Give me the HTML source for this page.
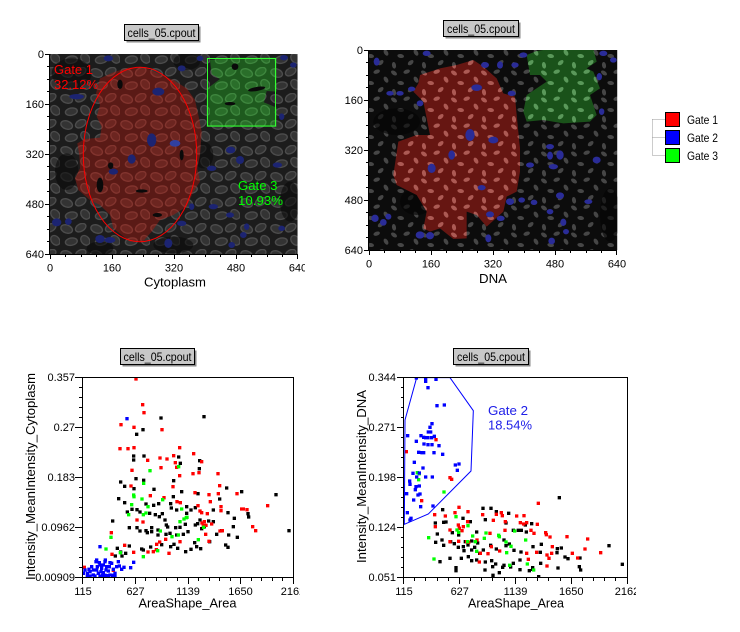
<!DOCTYPE html>
<html><head><meta charset="utf-8"><style>html,body{margin:0;padding:0;background:#fff}svg{display:block}</style></head>
<body>
<svg width="740" height="632" viewBox="0 0 740 632" xmlns="http://www.w3.org/2000/svg" font-family="Liberation Sans, Arial, sans-serif">
<defs>
<pattern id="cyt" patternUnits="userSpaceOnUse" width="90" height="78">
<rect width="90" height="78" fill="#1c1c1c"/>
<g fill="#333333" stroke="#4c4c4c" stroke-width="4">
<ellipse cx="20" cy="18" rx="18" ry="12" transform="rotate(20 20 18)"/>
<ellipse cx="62" cy="14" rx="17" ry="11" transform="rotate(-30 62 14)"/>
<ellipse cx="76" cy="52" rx="16" ry="12" transform="rotate(50 76 52)"/>
<ellipse cx="34" cy="56" rx="18" ry="11" transform="rotate(-10 34 56)"/>
</g></pattern>
<pattern id="cytR" patternUnits="userSpaceOnUse" width="90" height="78">
<rect width="90" height="78" fill="#5a1a16"/>
<g fill="#6c2520" stroke="#82342e" stroke-width="4">
<ellipse cx="20" cy="18" rx="18" ry="12" transform="rotate(20 20 18)"/>
<ellipse cx="62" cy="14" rx="17" ry="11" transform="rotate(-30 62 14)"/>
<ellipse cx="76" cy="52" rx="16" ry="12" transform="rotate(50 76 52)"/>
<ellipse cx="34" cy="56" rx="18" ry="11" transform="rotate(-10 34 56)"/>
</g></pattern>
<pattern id="cytG" patternUnits="userSpaceOnUse" width="90" height="78">
<rect width="90" height="78" fill="#1e5a1e"/>
<g fill="#2a6e2a" stroke="#3e863e" stroke-width="4">
<ellipse cx="20" cy="18" rx="18" ry="12" transform="rotate(20 20 18)"/>
<ellipse cx="62" cy="14" rx="17" ry="11" transform="rotate(-30 62 14)"/>
<ellipse cx="76" cy="52" rx="16" ry="12" transform="rotate(50 76 52)"/>
<ellipse cx="34" cy="56" rx="18" ry="11" transform="rotate(-10 34 56)"/>
</g></pattern>
<pattern id="nuc" patternUnits="userSpaceOnUse" width="90" height="81">
<rect width="90" height="81" fill="#0c0c0c"/>
<g fill="#464646">
<ellipse cx="12" cy="12" rx="10" ry="6" transform="rotate(35 12 12)"/>
<ellipse cx="50" cy="8" rx="10" ry="6" transform="rotate(-20 50 8)"/>
<ellipse cx="78" cy="32" rx="10" ry="6" transform="rotate(60 78 32)"/>
<ellipse cx="32" cy="42" rx="10" ry="6" transform="rotate(10 32 42)"/>
<ellipse cx="62" cy="62" rx="10" ry="6" transform="rotate(-40 62 62)"/>
<ellipse cx="12" cy="70" rx="10" ry="6" transform="rotate(80 12 70)"/>
</g></pattern>
<pattern id="nucR" patternUnits="userSpaceOnUse" width="90" height="81">
<rect width="90" height="81" fill="#661612"/>
<g fill="#ac5a54">
<ellipse cx="12" cy="12" rx="10" ry="6" transform="rotate(35 12 12)"/>
<ellipse cx="50" cy="8" rx="10" ry="6" transform="rotate(-20 50 8)"/>
<ellipse cx="78" cy="32" rx="10" ry="6" transform="rotate(60 78 32)"/>
<ellipse cx="32" cy="42" rx="10" ry="6" transform="rotate(10 32 42)"/>
<ellipse cx="62" cy="62" rx="10" ry="6" transform="rotate(-40 62 62)"/>
<ellipse cx="12" cy="70" rx="10" ry="6" transform="rotate(80 12 70)"/>
</g></pattern>
<pattern id="nucG" patternUnits="userSpaceOnUse" width="90" height="81">
<rect width="90" height="81" fill="#1a521a"/>
<g fill="#5a985a">
<ellipse cx="12" cy="12" rx="10" ry="6" transform="rotate(35 12 12)"/>
<ellipse cx="50" cy="8" rx="10" ry="6" transform="rotate(-20 50 8)"/>
<ellipse cx="78" cy="32" rx="10" ry="6" transform="rotate(60 78 32)"/>
<ellipse cx="32" cy="42" rx="10" ry="6" transform="rotate(10 32 42)"/>
<ellipse cx="62" cy="62" rx="10" ry="6" transform="rotate(-40 62 62)"/>
<ellipse cx="12" cy="70" rx="10" ry="6" transform="rotate(80 12 70)"/>
</g></pattern>
<clipPath id="c1"><rect x="150" y="117" width="743" height="600"/></clipPath>
<clipPath id="c2"><rect x="117" y="105" width="745" height="600"/></clipPath>
<clipPath id="cb1"><rect x="83" y="377" width="210" height="200"/></clipPath>
<clipPath id="cb2"><rect x="404" y="377" width="223" height="200"/></clipPath>
</defs>
<rect width="740" height="632" fill="#fff"/>

<!-- ===== Top-left image ===== -->
<g transform="translate(0,15) scale(0.333333)">
<g clip-path="url(#c1)">
<rect x="150" y="117" width="743" height="600" fill="url(#cyt)"/>
<g fill="#0a0a0a" opacity="0.6">
<ellipse cx="215" cy="175" rx="60" ry="45"/>
<ellipse cx="560" cy="140" rx="40" ry="25"/>
<ellipse cx="200" cy="470" rx="35" ry="55"/>
<ellipse cx="520" cy="690" rx="60" ry="25"/>
<ellipse cx="870" cy="560" rx="30" ry="60"/>
<ellipse cx="300" cy="700" rx="40" ry="20"/>
<ellipse cx="610" cy="420" rx="30" ry="40"/>
</g>
<path fill="url(#cytR)" d="M300,190 L340,172 L385,158 L440,160 L480,178 L520,195 L560,220 L585,255 L595,300 L605,350 L600,420 L592,460 L600,500 L580,530 L560,575 L520,600 L480,615 L455,650 L430,678 L390,680 L365,660 L340,640 L330,600 L300,570 L270,555 L235,525 L225,490 L240,460 L238,420 L232,385 L255,372 L300,368 L305,335 L290,305 L300,270 L288,235 Z"/>
<g fill="#0a0a0a">
<ellipse cx="360" cy="208" rx="8" ry="14"/>
<ellipse cx="300" cy="510" rx="10" ry="22"/>
<ellipse cx="425" cy="528" rx="18" ry="5"/>
<ellipse cx="332" cy="452" rx="8" ry="10"/>
<ellipse cx="472" cy="600" rx="14" ry="6"/>
<ellipse cx="545" cy="420" rx="6" ry="16"/>
</g>
<path fill="url(#cytG)" d="M630,135 L700,128 L830,128 L830,230 L800,228 L792,262 L830,278 L830,336 L620,336 L620,222 L660,192 L635,178 Z"/>
<g fill="#0a0a0a">
<ellipse cx="770" cy="222" rx="26" ry="6" transform="rotate(-10 770 222)"/>
<ellipse cx="690" cy="266" rx="16" ry="5"/>
<ellipse cx="705" cy="155" rx="10" ry="10"/>
</g>
<g fill="#1c2472">
<ellipse cx="325" cy="130" rx="14" ry="9"/><ellipse cx="545" cy="160" rx="12" ry="9"/><ellipse cx="600" cy="130" rx="10" ry="8"/>
<ellipse cx="852" cy="128" rx="12" ry="8"/><ellipse cx="880" cy="150" rx="10" ry="8"/><ellipse cx="230" cy="245" rx="22" ry="8"/>
<ellipse cx="475" cy="230" rx="18" ry="12"/><ellipse cx="455" cy="375" rx="14" ry="20"/><ellipse cx="525" cy="385" rx="16" ry="10" fill="#3040a0"/>
<ellipse cx="395" cy="432" rx="12" ry="14"/><ellipse cx="340" cy="470" rx="14" ry="9"/><ellipse cx="692" cy="405" rx="14" ry="10"/>
<ellipse cx="720" cy="435" rx="12" ry="12"/><ellipse cx="635" cy="460" rx="14" ry="8"/><ellipse cx="832" cy="450" rx="14" ry="8"/>
<ellipse cx="640" cy="575" rx="14" ry="8"/><ellipse cx="690" cy="600" rx="12" ry="8"/><ellipse cx="740" cy="635" rx="8" ry="10"/>
<ellipse cx="730" cy="660" rx="10" ry="9"/><ellipse cx="695" cy="690" rx="10" ry="9"/><ellipse cx="170" cy="622" rx="14" ry="12"/>
<ellipse cx="205" cy="620" rx="10" ry="10"/><ellipse cx="300" cy="672" rx="14" ry="12"/><ellipse cx="505" cy="685" rx="12" ry="14"/>
<ellipse cx="545" cy="625" rx="14" ry="8"/><ellipse cx="575" cy="575" rx="8" ry="10"/><ellipse cx="845" cy="305" rx="8" ry="10"/>
<ellipse cx="330" cy="675" rx="16" ry="9"/><ellipse cx="845" cy="640" rx="10" ry="8"/>
</g>
</g>
</g>
<ellipse cx="140" cy="154.5" rx="56.7" ry="87.2" fill="none" stroke="#ff0000" stroke-width="1"/>
<rect x="207.5" y="58.5" width="68" height="67.5" fill="none" stroke="#33ff33" stroke-width="1"/>
<text x="54" y="74" font-size="13" fill="#ff0000" textLength="39" lengthAdjust="spacingAndGlyphs">Gate 1</text>
<text x="54" y="89" font-size="13" fill="#ff0000" textLength="44" lengthAdjust="spacingAndGlyphs">32.12%</text>
<text x="238" y="190" font-size="13" fill="#00ff00" textLength="39.5" lengthAdjust="spacingAndGlyphs">Gate 3</text>
<text x="238" y="205" font-size="13" fill="#00ff00" textLength="45" lengthAdjust="spacingAndGlyphs">10.93%</text>

<!-- ===== Top-right image ===== -->
<g transform="translate(330,15) scale(0.333333)">
<g clip-path="url(#c2)">
<rect x="117" y="105" width="745" height="600" fill="url(#nuc)"/>
<g fill="#050505" opacity="0.6">
<ellipse cx="200" cy="320" rx="70" ry="40"/>
<ellipse cx="260" cy="560" rx="50" ry="40"/>
<ellipse cx="840" cy="600" rx="30" ry="80"/>
</g>
<path fill="url(#nucR)" d="M265,205 L270,180 L330,160 L380,150 L430,135 L460,155 L500,190 L520,235 L555,245 L560,300 L565,350 L570,400 L570,470 L560,530 L530,545 L520,590 L470,635 L440,600 L410,590 L410,670 L370,672 L330,640 L300,650 L280,640 L290,590 L260,540 L200,510 L190,480 L205,380 L260,360 L300,360 L290,310 L280,260 L250,230 Z"/>
<path fill="url(#nucG)" d="M590,120 L620,108 L660,102 L700,98 L790,102 L800,140 L770,160 L790,170 L810,220 L780,240 L800,300 L780,320 L700,325 L640,315 L590,320 L580,290 L590,240 L650,200 L630,180 L600,180 Z"/>
<g fill="#2a2c98">
<ellipse cx="140" cy="140" rx="9" ry="12"/><ellipse cx="290" cy="115" rx="12" ry="8"/><ellipse cx="465" cy="150" rx="12" ry="9"/>
<ellipse cx="510" cy="150" rx="9" ry="11"/><ellipse cx="555" cy="150" rx="11" ry="8"/><ellipse cx="580" cy="120" rx="12" ry="8"/>
<ellipse cx="820" cy="115" rx="12" ry="8"/><ellipse cx="850" cy="135" rx="10" ry="8"/><ellipse cx="808" cy="185" rx="8" ry="11"/>
<ellipse cx="180" cy="235" rx="11" ry="7"/><ellipse cx="210" cy="235" rx="11" ry="7"/><ellipse cx="245" cy="222" rx="11" ry="7"/>
<ellipse cx="270" cy="265" rx="10" ry="9"/><ellipse cx="440" cy="218" rx="16" ry="10"/><ellipse cx="545" cy="235" rx="12" ry="8"/>
<ellipse cx="420" cy="360" rx="14" ry="18"/><ellipse cx="490" cy="375" rx="15" ry="10"/><ellipse cx="365" cy="420" rx="10" ry="14"/>
<ellipse cx="305" cy="460" rx="12" ry="14"/><ellipse cx="455" cy="518" rx="12" ry="8"/><ellipse cx="540" cy="560" rx="12" ry="10"/>
<ellipse cx="575" cy="555" rx="10" ry="8"/><ellipse cx="612" cy="562" rx="10" ry="8"/><ellipse cx="480" cy="598" rx="12" ry="9"/>
<ellipse cx="512" cy="610" rx="12" ry="8"/><ellipse cx="660" cy="395" rx="12" ry="8"/><ellipse cx="690" cy="420" rx="11" ry="14"/>
<ellipse cx="660" cy="422" rx="9" ry="12"/><ellipse cx="600" cy="450" rx="12" ry="8"/><ellipse cx="670" cy="455" rx="14" ry="8"/>
<ellipse cx="800" cy="435" rx="12" ry="10"/><ellipse cx="690" cy="542" rx="12" ry="10"/><ellipse cx="775" cy="560" rx="12" ry="7"/>
<ellipse cx="660" cy="590" rx="10" ry="8"/><ellipse cx="700" cy="622" rx="9" ry="11"/><ellipse cx="135" cy="610" rx="11" ry="11"/>
<ellipse cx="160" cy="622" rx="10" ry="10"/><ellipse cx="175" cy="605" rx="9" ry="9"/><ellipse cx="270" cy="660" rx="13" ry="11"/>
<ellipse cx="300" cy="662" rx="12" ry="11"/><ellipse cx="475" cy="670" rx="9" ry="12"/><ellipse cx="665" cy="678" rx="10" ry="10"/>
<ellipse cx="815" cy="290" rx="8" ry="10"/><ellipse cx="708" cy="650" rx="9" ry="8"/>
</g>
</g>
</g>

<!-- axes top -->
<g stroke="#000" stroke-width="1" fill="none">
<path d="M49.5,54V254.5H298"/>
<path d="M45,54.5h5M45,104.5h5M45,154.5h5M45,204.5h5M45,254.5h5M47,66.5h3M47,79.5h3M47,91.5h3M47,116.5h3M47,129.5h3M47,141.5h3M47,166.5h3M47,179.5h3M47,191.5h3M47,216.5h3M47,229.5h3M47,241.5h3"/>
<path d="M50.5,254v5M112.5,254v5M174.5,254v5M236.5,254v5M297.5,254v5M65.5,254v3M81.5,254v3M96.5,254v3M127.5,254v3M143.5,254v3M158.5,254v3M189.5,254v3M205.5,254v3M220.5,254v3M251.5,254v3M267.5,254v3M282.5,254v3"/>
<path d="M368.5,50V250.5H617"/>
<path d="M364,50.5h5M364,100.5h5M364,150.5h5M364,200.5h5M364,250.5h5M366,62.5h3M366,75.5h3M366,87.5h3M366,112.5h3M366,125.5h3M366,137.5h3M366,162.5h3M366,175.5h3M366,187.5h3M366,212.5h3M366,225.5h3M366,237.5h3"/>
<path d="M369.5,250v5M431.5,250v5M493.5,250v5M555.5,250v5M616.5,250v5M384.5,250v3M400.5,250v3M415.5,250v3M446.5,250v3M462.5,250v3M477.5,250v3M508.5,250v3M524.5,250v3M539.5,250v3M570.5,250v3M586.5,250v3M601.5,250v3"/>
</g>
<g font-size="11" fill="#000" text-anchor="end">
<text x="44" y="58">0</text><text x="44" y="108">160</text><text x="44" y="158">320</text><text x="44" y="208">480</text><text x="44" y="258">640</text>
<text x="363" y="54">0</text><text x="363" y="104">160</text><text x="363" y="154">320</text><text x="363" y="204">480</text><text x="363" y="254">640</text>
</g>
<svg x="0" y="0" width="305" height="300" overflow="hidden">
<g font-size="11" fill="#000" text-anchor="middle">
<text x="50" y="271.5">0</text><text x="112" y="271.5">160</text><text x="174" y="271.5">320</text><text x="236" y="271.5">480</text><text x="298" y="271.5">640</text>
</g></svg>
<svg x="330" y="0" width="296" height="300" overflow="hidden">
<g font-size="11" fill="#000" text-anchor="middle">
<text x="39" y="267.5">0</text><text x="101" y="267.5">160</text><text x="163" y="267.5">320</text><text x="225" y="267.5">480</text><text x="287" y="267.5">640</text>
</g></svg>
<text x="175" y="286.5" font-size="13" text-anchor="middle" textLength="62" lengthAdjust="spacingAndGlyphs">Cytoplasm</text>
<text x="493" y="283" font-size="13" text-anchor="middle" textLength="28" lengthAdjust="spacingAndGlyphs">DNA</text>

<!-- title boxes -->
<g font-size="12">
<rect x="126.5" y="26.5" width="74" height="16" fill="#8a8a8a"/>
<rect x="124.5" y="24.5" width="74" height="16" fill="#c8c8c8" stroke="#000"/>
<text x="161.5" y="37" text-anchor="middle" textLength="68" lengthAdjust="spacingAndGlyphs">cells_05.cpout</text>
<rect x="445.5" y="22.5" width="75" height="16" fill="#8a8a8a"/>
<rect x="443.5" y="20.5" width="75" height="16" fill="#c8c8c8" stroke="#000"/>
<text x="481" y="33" text-anchor="middle" textLength="68" lengthAdjust="spacingAndGlyphs">cells_05.cpout</text>
<rect x="122.5" y="350.5" width="74" height="16" fill="#8a8a8a"/>
<rect x="120.5" y="348.5" width="74" height="16" fill="#c8c8c8" stroke="#000"/>
<text x="157.5" y="361" text-anchor="middle" textLength="68" lengthAdjust="spacingAndGlyphs">cells_05.cpout</text>
<rect x="455.5" y="350.5" width="75" height="16" fill="#8a8a8a"/>
<rect x="453.5" y="348.5" width="75" height="16" fill="#c8c8c8" stroke="#000"/>
<text x="491" y="361" text-anchor="middle" textLength="68" lengthAdjust="spacingAndGlyphs">cells_05.cpout</text>
</g>

<!-- legend -->
<path d="M652.5,119.5V155.5M652.5,119.5H665M652.5,137.5H665M652.5,155.5H665" stroke="#999" stroke-dasharray="1,1" fill="none"/>
<rect x="665.5" y="112.5" width="14" height="14" fill="#ff0000" stroke="#000"/>
<rect x="665.5" y="130.5" width="14" height="14" fill="#0000ff" stroke="#000"/>
<rect x="665.5" y="148.5" width="14" height="14" fill="#00ff00" stroke="#000"/>
<g font-size="12" fill="#000">
<text x="687" y="124" textLength="31" lengthAdjust="spacingAndGlyphs">Gate 1</text>
<text x="687" y="142" textLength="31" lengthAdjust="spacingAndGlyphs">Gate 2</text>
<text x="687" y="160" textLength="31" lengthAdjust="spacingAndGlyphs">Gate 3</text>
</g>

<!-- ===== Bottom-left scatter ===== -->
<g clip-path="url(#cb1)">
<g transform="translate(0,340) scale(0.333333) translate(-5,-5)">
<path fill="#000" d="M483 234h10v10h-10zM612 230h10v10h-10zM429 269h10v10h-10zM410 283h10v10h-10zM401 348h10v10h-10zM432 348h10v10h-10zM401 360h10v10h-10zM408 416h10v10h-10zM431 421h10v10h-10zM362 426h10v10h-10zM374 439h10v10h-10zM402 446h10v10h-10zM536 351h10v10h-10zM541 370h10v10h-10zM598 386h10v10h-10zM599 362h10v10h-10zM521 422h10v10h-10zM594 461h10v10h-10zM680 444h10v10h-10zM725 455h10v10h-10zM828 464h10v10h-10zM659 477h10v10h-10zM356 476h10v10h-10zM374 488h10v10h-10zM438 492h10v10h-10zM461 496h10v10h-10zM476 491h10v10h-10zM512 491h10v10h-10zM382 516h10v10h-10zM396 508h10v10h-10zM411 509h10v10h-10zM420 516h10v10h-10zM449 520h10v10h-10zM466 524h10v10h-10zM487 521h10v10h-10zM514 504h10v10h-10zM530 510h10v10h-10zM560 500h10v10h-10zM573 510h10v10h-10zM586 503h10v10h-10zM684 518h10v10h-10zM703 535h10v10h-10zM744 521h10v10h-10zM746 531h10v10h-10zM338 543h10v10h-10zM388 563h10v10h-10zM411 563h10v10h-10zM420 573h10v10h-10zM438 572h10v10h-10zM455 563h10v10h-10zM474 570h10v10h-10zM499 555h10v10h-10zM503 561h10v10h-10zM510 580h10v10h-10zM527 563h10v10h-10zM540 562h10v10h-10zM556 553h10v10h-10zM564 575h10v10h-10zM586 555h10v10h-10zM593 551h10v10h-10zM605 566h10v10h-10zM613 560h10v10h-10zM626 543h10v10h-10zM640 545h10v10h-10zM650 583h10v10h-10zM665 572h10v10h-10zM686 585h10v10h-10zM712 592h10v10h-10zM677 615h10v10h-10zM684 622h10v10h-10zM867 572h10v10h-10zM352 625h10v10h-10zM362 636h10v10h-10zM346 648h10v10h-10zM366 648h10v10h-10zM377 640h10v10h-10zM388 618h10v10h-10zM425 627h10v10h-10zM430 630h10v10h-10zM452 621h10v10h-10zM485 614h10v10h-10zM512 620h10v10h-10zM522 613h10v10h-10zM533 625h10v10h-10zM557 635h10v10h-10zM573 628h10v10h-10zM584 608h10v10h-10zM590 620h10v10h-10zM602 626h10v10h-10zM629 605h10v10h-10zM530 585h10v10h-10zM455 575h10v10h-10zM442 578h10v10h-10zM474 585h10v10h-10zM498 583h10v10h-10zM550 583h10v10h-10zM462 448h10v10h-10zM520 470h10v10h-10zM545 455h10v10h-10zM478 530h10v10h-10zM495 540h10v10h-10zM560 520h10v10h-10zM600 540h10v10h-10zM640 510h10v10h-10zM700 560h10v10h-10z"/>
<path fill="#ff0000" d="M408 117h10v10h-10zM428 194h10v10h-10zM432 218h10v10h-10zM363 254h10v10h-10zM402 262h10v10h-10zM486 269h10v10h-10zM360 326h10v10h-10zM384 326h10v10h-10zM402 323h10v10h-10zM443 361h10v10h-10zM480 354h10v10h-10zM501 357h10v10h-10zM521 347h10v10h-10zM539 323h10v10h-10zM526 368h10v10h-10zM581 341h10v10h-10zM605 365h10v10h-10zM396 391h10v10h-10zM483 383h10v10h-10zM530 382h10v10h-10zM539 407h10v10h-10zM579 401h10v10h-10zM597 398h10v10h-10zM654 401h10v10h-10zM393 438h10v10h-10zM519 440h10v10h-10zM659 437h10v10h-10zM451 467h10v10h-10zM492 473h10v10h-10zM541 488h10v10h-10zM585 458h10v10h-10zM627 464h10v10h-10zM655 461h10v10h-10zM711 461h10v10h-10zM631 485h10v10h-10zM663 500h10v10h-10zM531 485h10v10h-10zM594 497h10v10h-10zM600 513h10v10h-10zM605 518h10v10h-10zM622 521h10v10h-10zM741 509h10v10h-10zM730 507h10v10h-10zM725 507h10v10h-10zM803 497h10v10h-10zM663 512h10v10h-10zM411 540h10v10h-10zM429 546h10v10h-10zM606 549h10v10h-10zM613 545h10v10h-10zM618 556h10v10h-10zM635 552h10v10h-10zM667 572h10v10h-10zM758 560h10v10h-10zM767 572h10v10h-10zM334 578h10v10h-10zM336 643h10v10h-10zM374 616h10v10h-10zM401 637h10v10h-10zM444 636h10v10h-10zM460 635h10v10h-10zM470 613h10v10h-10zM479 606h10v10h-10zM507 640h10v10h-10zM497 598h10v10h-10zM540 605h10v10h-10zM469 629h10v10h-10zM617 583h10v10h-10zM627 604h10v10h-10zM610 556h10v10h-10zM660 573h10v10h-10zM253 682h10v10h-10zM340 691h10v10h-10z"/>
<path fill="#00ff00" d="M450 392h10v10h-10zM431 430h10v10h-10zM401 465h10v10h-10zM402 470h10v10h-10zM426 477h10v10h-10zM395 494h10v10h-10zM444 500h10v10h-10zM488 479h10v10h-10zM430 524h10v10h-10zM438 519h10v10h-10zM386 524h10v10h-10zM545 507h10v10h-10zM559 533h10v10h-10zM540 545h10v10h-10zM552 537h10v10h-10zM561 532h10v10h-10zM611 562h10v10h-10zM595 599h10v10h-10zM516 590h10v10h-10zM535 585h10v10h-10zM481 573h10v10h-10zM333 592h10v10h-10zM318 627h10v10h-10zM473 632h10v10h-10zM430 650h10v10h-10zM361 638h10v10h-10zM536 380h10v10h-10z"/>
<path fill="#0000ff" d="M381 236h10v10h-10zM300 620h10v10h-10zM401 667h10v10h-10zM392 683h10v10h-10zM355 665h10v10h-10zM330 668h10v10h-10zM316 660h10v10h-10zM255 690h10v10h-10zM262 700h10v10h-10zM270 695h10v10h-10zM275 680h10v10h-10zM280 705h10v10h-10zM288 665h10v10h-10zM290 690h10v10h-10zM295 700h10v10h-10zM300 675h10v10h-10zM305 685h10v10h-10zM310 698h10v10h-10zM315 665h10v10h-10zM320 680h10v10h-10zM325 693h10v10h-10zM330 705h10v10h-10zM335 670h10v10h-10zM340 688h10v10h-10zM345 700h10v10h-10zM350 680h10v10h-10zM358 678h10v10h-10zM365 688h10v10h-10zM372 682h10v10h-10zM262 706h10v10h-10zM270 708h10v10h-10zM285 708h10v10h-10zM300 708h10v10h-10zM315 706h10v10h-10zM325 707h10v10h-10zM338 706h10v10h-10zM250 700h10v10h-10zM292 680h10v10h-10zM303 695h10v10h-10zM318 690h10v10h-10zM328 680h10v10h-10zM310 675h10v10h-10zM280 690h10v10h-10zM298 668h10v10h-10zM290 660h10v10h-10zM267 688h10v10h-10zM308 706h10v10h-10zM345 710h10v10h-10z"/>
</g>
</g>
<g stroke="#000" fill="none">
<rect x="82.5" y="377.5" width="211" height="200"/>
<path d="M75,377.5h7M75,427.5h7M75,477.5h7M75,527.5h7M75,577.5h7M79,387.5h3M79,397.5h3M79,407.5h3M79,417.5h3M79,437.5h3M79,447.5h3M79,457.5h3M79,467.5h3M79,487.5h3M79,497.5h3M79,507.5h3M79,517.5h3M79,537.5h3M79,547.5h3M79,557.5h3M79,567.5h3"/>
<path d="M82.5,578v6M135.5,578v6M188.5,578v6M240.5,578v6M293.5,578v6M93.5,578v3M103.5,578v3M114.5,578v3M124.5,578v3M145.5,578v3M156.5,578v3M166.5,578v3M177.5,578v3M198.5,578v3M209.5,578v3M219.5,578v3M230.5,578v3M251.5,578v3M261.5,578v3M272.5,578v3M282.5,578v3"/>
</g>
<g font-size="11" text-anchor="end">
<text x="75" y="381">0.357</text><text x="75" y="431">0.27</text><text x="75" y="481">0.183</text><text x="75" y="531">0.0962</text><text x="75" y="581">0.00909</text>
</g>
<svg x="0" y="570" width="300" height="40" overflow="hidden">
<g font-size="11" text-anchor="middle">
<text x="83" y="25">115</text><text x="135.5" y="25">627</text><text x="188" y="25">1139</text><text x="240.5" y="25">1650</text><text x="293" y="25">2162</text>
</g></svg>
<text x="187.5" y="607.5" font-size="13" text-anchor="middle" textLength="98" lengthAdjust="spacingAndGlyphs">AreaShape_Area</text>
<text transform="translate(35,476.5) rotate(-90)" font-size="13" text-anchor="middle" textLength="207" lengthAdjust="spacingAndGlyphs">Intensity_MeanIntensity_Cytoplasm</text>

<!-- ===== Bottom-right scatter ===== -->
<g clip-path="url(#cb2)">
<g transform="translate(340,340) scale(0.333333) translate(-5,-5)">
<path fill="#000" d="M658 473h10v10h-10zM429 505h10v10h-10zM453 505h10v10h-10zM469 515h10v10h-10zM506 520h10v10h-10zM308 509h10v10h-10zM286 549h10v10h-10zM311 547h10v10h-10zM318 546h10v10h-10zM369 535h10v10h-10zM391 545h10v10h-10zM436 539h10v10h-10zM498 549h10v10h-10zM535 571h10v10h-10zM544 571h10v10h-10zM556 555h10v10h-10zM575 551h10v10h-10zM292 582h10v10h-10zM337 578h10v10h-10zM356 585h10v10h-10zM410 576h10v10h-10zM520 571h10v10h-10zM559 576h10v10h-10zM306 600h10v10h-10zM311 616h10v10h-10zM287 607h10v10h-10zM332 605h10v10h-10zM343 611h10v10h-10zM370 620h10v10h-10zM384 615h10v10h-10zM395 603h10v10h-10zM404 622h10v10h-10zM413 609h10v10h-10zM430 630h10v10h-10zM452 616h10v10h-10zM469 627h10v10h-10zM492 600h10v10h-10zM498 617h10v10h-10zM508 612h10v10h-10zM522 631h10v10h-10zM543 636h10v10h-10zM579 620h10v10h-10zM601 637h10v10h-10zM604 613h10v10h-10zM652 626h10v10h-10zM651 638h10v10h-10zM664 624h10v10h-10zM675 651h10v10h-10zM684 656h10v10h-10zM720 654h10v10h-10zM807 617h10v10h-10zM847 673h10v10h-10zM718 680h10v10h-10zM722 690h10v10h-10zM654 684h10v10h-10zM602 670h10v10h-10zM578 683h10v10h-10zM578 688h10v10h-10zM568 692h10v10h-10zM540 689h10v10h-10zM512 681h10v10h-10zM492 676h10v10h-10zM478 698h10v10h-10zM459 706h10v10h-10zM435 690h10v10h-10zM410 660h10v10h-10zM395 662h10v10h-10zM385 650h10v10h-10zM372 632h10v10h-10zM330 655h10v10h-10zM348 683h10v10h-10zM348 692h10v10h-10zM300 665h10v10h-10zM436 666h10v10h-10zM455 662h10v10h-10zM467 672h10v10h-10zM488 682h10v10h-10zM520 670h10v10h-10zM458 680h10v10h-10zM596 710h10v10h-10zM395 630h10v10h-10zM376 605h10v10h-10zM355 622h10v10h-10zM364 655h10v10h-10zM419 640h10v10h-10zM540 660h10v10h-10z"/>
<path fill="#ff0000" d="M199 335h10v10h-10zM288 299h10v10h-10zM330 413h10v10h-10zM335 418h10v10h-10zM245 482h10v10h-10zM284 524h10v10h-10zM316 528h10v10h-10zM286 560h10v10h-10zM345 518h10v10h-10zM357 502h10v10h-10zM355 555h10v10h-10zM358 565h10v10h-10zM366 572h10v10h-10zM370 560h10v10h-10zM330 570h10v10h-10zM384 515h10v10h-10zM383 545h10v10h-10zM428 524h10v10h-10zM460 541h10v10h-10zM469 523h10v10h-10zM484 518h10v10h-10zM487 527h10v10h-10zM530 528h10v10h-10zM552 527h10v10h-10zM551 552h10v10h-10zM560 548h10v10h-10zM573 571h10v10h-10zM592 553h10v10h-10zM595 490h10v10h-10zM617 578h10v10h-10zM619 584h10v10h-10zM630 591h10v10h-10zM681 590h10v10h-10zM743 597h10v10h-10zM735 627h10v10h-10zM782 638h10v10h-10zM713 654h10v10h-10zM697 640h10v10h-10zM637 620h10v10h-10zM621 645h10v10h-10zM627 655h10v10h-10zM560 640h10v10h-10zM565 658h10v10h-10zM590 637h10v10h-10zM635 640h10v10h-10zM356 604h10v10h-10zM380 605h10v10h-10zM386 607h10v10h-10zM330 605h10v10h-10zM421 640h10v10h-10zM444 641h10v10h-10zM479 633h10v10h-10zM418 666h10v10h-10zM621 678h10v10h-10zM496 545h10v10h-10zM541 548h10v10h-10zM495 571h10v10h-10zM450 580h10v10h-10zM582 580h10v10h-10zM411 600h10v10h-10zM454 620h10v10h-10z"/>
<path fill="#00ff00" d="M348 530h10v10h-10zM356 577h10v10h-10zM351 570h10v10h-10zM384 557h10v10h-10zM398 588h10v10h-10zM383 605h10v10h-10zM406 605h10v10h-10zM433 595h10v10h-10zM438 579h10v10h-10zM476 586h10v10h-10zM478 590h10v10h-10zM498 606h10v10h-10zM500 638h10v10h-10zM524 573h10v10h-10zM513 619h10v10h-10zM557 600h10v10h-10zM562 672h10v10h-10zM581 690h10v10h-10zM266 593h10v10h-10zM282 657h10v10h-10zM232 398h10v10h-10zM238 401h10v10h-10zM236 419h10v10h-10zM312 456h10v10h-10zM410 634h10v10h-10zM509 676h10v10h-10z"/>
<path fill="#0000ff" d="M257 118h10v10h-10zM257 124h10v10h-10zM288 118h10v10h-10zM264 143h10v10h-10zM291 197h10v10h-10zM313 195h10v10h-10zM229 114h10v10h-10zM276 251h10v10h-10zM270 262h10v10h-10zM265 276h10v10h-10zM272 276h10v10h-10zM251 292h10v10h-10zM257 293h10v10h-10zM264 293h10v10h-10zM275 293h10v10h-10zM283 289h10v10h-10zM229 304h10v10h-10zM252 312h10v10h-10zM264 314h10v10h-10zM276 314h10v10h-10zM297 317h10v10h-10zM236 337h10v10h-10zM246 338h10v10h-10zM251 338h10v10h-10zM282 338h10v10h-10zM308 343h10v10h-10zM249 384h10v10h-10zM238 399h10v10h-10zM219 400h10v10h-10zM230 411h10v10h-10zM257 411h10v10h-10zM277 411h10v10h-10zM209 423h10v10h-10zM210 433h10v10h-10zM228 440h10v10h-10zM238 438h10v10h-10zM226 449h10v10h-10zM200 461h10v10h-10zM234 465h10v10h-10zM240 462h10v10h-10zM221 480h10v10h-10zM242 500h10v10h-10zM279 498h10v10h-10zM202 518h10v10h-10zM213 535h10v10h-10zM210 540h10v10h-10zM203 287h10v10h-10zM223 367h10v10h-10zM346 375h10v10h-10zM357 372h10v10h-10zM352 391h10v10h-10zM243 287h10v10h-10z"/>
</g>
</g>
<g transform="translate(340,340) scale(0.333333)">
<path d="M193,553 L265,522 L393,393 L400,212 L330,113 L230,113 L195,240 Z" fill="none" stroke="#0000ff" stroke-width="3"/>
</g>
<g stroke="#000" fill="none">
<rect x="403.5" y="377.5" width="224" height="200"/>
<path d="M397,377.5h7M397,427.5h7M397,477.5h7M397,527.5h7M397,577.5h7M401,387.5h3M401,397.5h3M401,407.5h3M401,417.5h3M401,437.5h3M401,447.5h3M401,457.5h3M401,467.5h3M401,487.5h3M401,497.5h3M401,507.5h3M401,517.5h3M401,537.5h3M401,547.5h3M401,557.5h3M401,567.5h3"/>
<path d="M403.5,578v6M459.5,578v6M515.5,578v6M571.5,578v6M627.5,578v6M414.5,578v3M425.5,578v3M437.5,578v3M448.5,578v3M470.5,578v3M481.5,578v3M492.5,578v3M504.5,578v3M526.5,578v3M537.5,578v3M548.5,578v3M560.5,578v3M582.5,578v3M593.5,578v3M604.5,578v3M615.5,578v3"/>
</g>
<g font-size="11" text-anchor="end">
<text x="396" y="381">0.344</text><text x="396" y="431">0.271</text><text x="396" y="481">0.198</text><text x="396" y="531">0.124</text><text x="396" y="581">0.051</text>
</g>
<svg x="340" y="570" width="296" height="40" overflow="hidden">
<g font-size="11" text-anchor="middle">
<text x="64" y="25">115</text><text x="119.75" y="25">627</text><text x="175.5" y="25">1139</text><text x="231.25" y="25">1650</text><text x="287" y="25">2162</text>
</g></svg>
<text x="516" y="607.5" font-size="13" text-anchor="middle" textLength="96" lengthAdjust="spacingAndGlyphs">AreaShape_Area</text>
<text transform="translate(366,476.5) rotate(-90)" font-size="13" text-anchor="middle" textLength="173" lengthAdjust="spacingAndGlyphs">Intensity_MeanIntensity_DNA</text>
<text x="488" y="415" font-size="13" fill="#2020e8" textLength="40" lengthAdjust="spacingAndGlyphs">Gate 2</text>
<text x="488" y="429.5" font-size="13" fill="#2020e8" textLength="44" lengthAdjust="spacingAndGlyphs">18.54%</text>
</svg>
</body></html>
